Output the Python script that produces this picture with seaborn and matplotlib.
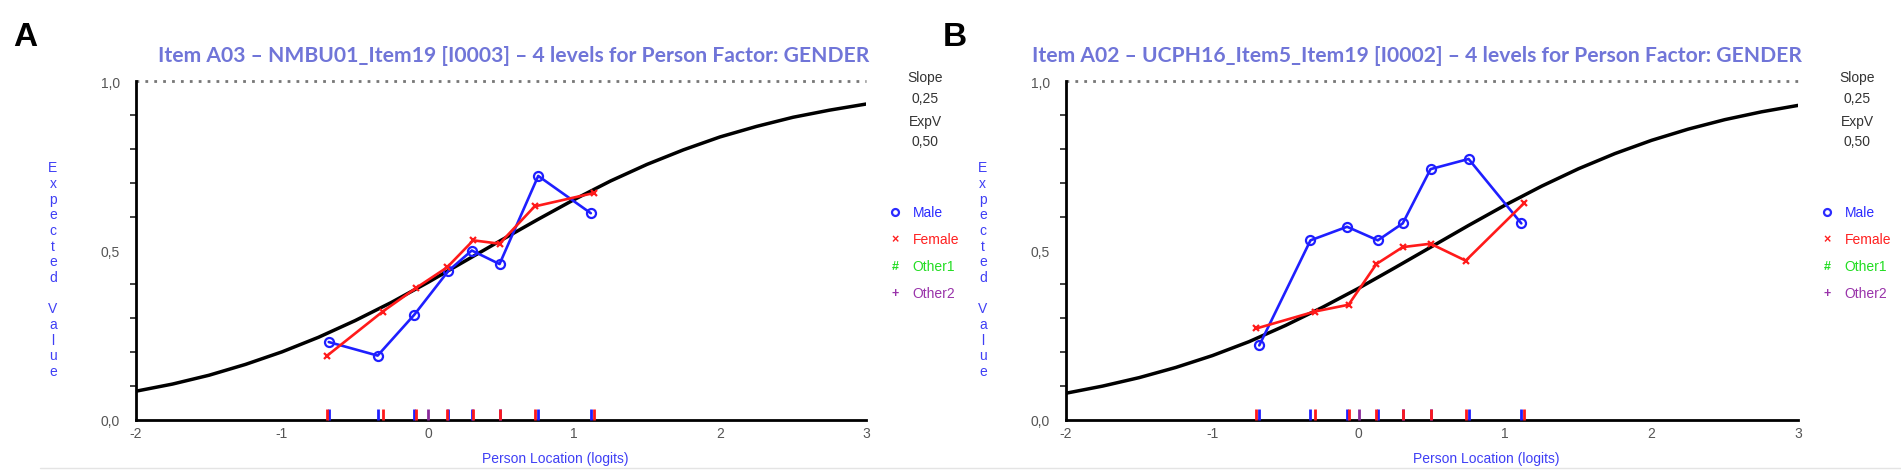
import matplotlib
matplotlib.use("Agg")
import matplotlib.pyplot as plt
import seaborn as sns
import pandas as pd
from matplotlib.ticker import FixedLocator, MultipleLocator
from matplotlib.lines import Line2D

# expected score curve
logits = [-2.0, -1.75, -1.5, -1.25, -1.0, -0.75, -0.5, -0.25, 0.0, 0.25, 0.5,
          0.75, 1.0, 1.25, 1.5, 1.75, 2.0, 2.25, 2.5, 2.75, 3.0]
icc_a = [0.085, 0.106, 0.132, 0.164, 0.201, 0.244, 0.293, 0.347, 0.406, 0.468, 0.530,
         0.591, 0.650, 0.705, 0.754, 0.797, 0.835, 0.866, 0.893, 0.914, 0.932]
icc_b = [0.079, 0.100, 0.125, 0.155, 0.190, 0.231, 0.279, 0.332, 0.389, 0.450, 0.512,
         0.574, 0.634, 0.690, 0.741, 0.786, 0.825, 0.858, 0.886, 0.909, 0.928]

# observed class means per gender
male_a_x = [-0.68, -0.345, -0.095, 0.14, 0.30, 0.49, 0.755, 1.115]
male_a_y = [0.23, 0.19, 0.31, 0.44, 0.50, 0.46, 0.72, 0.61]
female_a_x = [-0.69, -0.31, -0.08, 0.13, 0.31, 0.49, 0.73, 1.14]
female_a_y = [0.19, 0.32, 0.39, 0.45, 0.53, 0.52, 0.63, 0.67]

male_b_x = [-0.68, -0.33, -0.08, 0.13, 0.30, 0.49, 0.75, 1.11]
male_b_y = [0.22, 0.53, 0.57, 0.53, 0.58, 0.74, 0.77, 0.58]
female_b_x = [-0.70, -0.30, -0.07, 0.12, 0.30, 0.49, 0.73, 1.13]
female_b_y = [0.27, 0.32, 0.34, 0.46, 0.51, 0.52, 0.47, 0.64]

other2_loc = [0.0]

titles = ["Item A03 \u2013 NMBU01_Item19 [I0003] \u2013 4 levels for Person Factor: GENDER",
          "Item A02 \u2013 UCPH16_Item5_Item19 [I0002] \u2013 4 levels for Person Factor: GENDER"]
panel_letters = ["A", "B"]
groups = ["Male", "Female", "Other1", "Other2"]
group_colors = ["#2b2bff", "#ff2020", "#22dd22", "#9933aa"]
group_symbols = ["o", "\u00d7", "#", "+"]

sns.set_style("white")
plt.rcParams['font.family'] = ['Liberation Sans', 'DejaVu Sans']

BLUE = "#1f1fff"
RED = "#ff1a1a"
LBLUE = "#3f3ff5"
TITLE_C = "#7075d8"


def draw_panel(ax, curve, mx, my, fx, fy, title):
    sns.lineplot(x=logits, y=curve, ax=ax, color="black", lw=2.5, zorder=3)
    sns.lineplot(x=mx, y=my, ax=ax, color=BLUE, lw=1.9, marker="o", markersize=6.5,
                 mfc="none", mec=BLUE, mew=1.6, sort=False, zorder=4)
    sns.lineplot(x=fx, y=fy, ax=ax, color=RED, lw=1.9, marker="x", markersize=5,
                 mec=RED, mew=1.6, sort=False, zorder=5)

    # person location marks on the x axis
    ax.vlines(mx, 0, 0.033, color=BLUE, lw=2, zorder=6, clip_on=False)
    ax.vlines(fx, 0, 0.033, color=RED, lw=2, zorder=7, clip_on=False)
    ax.vlines(other2_loc, 0, 0.033, color="#8a2a9a", lw=2, zorder=7, clip_on=False)

    ax.plot([-2, 3], [1, 1], color="#777777", lw=2, ls=(0, (1.0, 2.2)), clip_on=False)

    ax.set_xlim(-2, 3)
    ax.set_ylim(0, 1)
    for s in ["top", "right"]:
        ax.spines[s].set_visible(False)
    for s in ["left", "bottom"]:
        ax.spines[s].set_color("black")
        ax.spines[s].set_linewidth(2.0)

    ax.yaxis.set_major_locator(FixedLocator([0, 0.5, 1.0]))
    ax.set_yticklabels(["0,0", "0,5", "1,0"])
    ax.yaxis.set_minor_locator(MultipleLocator(0.1))
    ax.set_xticks([-2, -1, 0, 1, 2, 3])
    ax.set_xticklabels(["-2", "-1", "0", "1", "2", "3"])
    ax.tick_params(axis="y", which="major", direction="out", length=9.5, width=1.3,
                   color="#333333", labelsize=10, labelcolor="#555555", pad=2)
    ax.tick_params(axis="y", which="minor", direction="out", length=4.5, width=1.3,
                   color="#333333", left=True)
    ax.tick_params(axis="x", which="major", direction="inout", length=6, width=1.3,
                   color="#333333", labelsize=10, labelcolor="#555555", pad=1)
    ax.set_xlabel("")
    ax.set_ylabel("")

    ax.text(0.574, -0.112, "Person Location (logits)", transform=ax.transAxes,
            ha="center", va="center", fontsize=10, color=LBLUE)
    ax.text(-0.1137, 0.445, "\n".join(list("Expected")) + "\n\n" + "\n".join(list("Value")),
            transform=ax.transAxes, ha="center", va="center", fontsize=10,
            color=LBLUE, linespacing=1.15)

    ax.text(1.005, 1.077, title, transform=ax.transAxes, ha="right", va="center",
            fontsize=15.2, fontweight="bold", color=TITLE_C, family=["Lato", "DejaVu Sans"])

    # slope / expected value box
    for txt, yy in zip(["Slope", "0,25", "ExpV", "0,50"], [1.012, 0.950, 0.882, 0.823]):
        ax.text(1.081, yy, txt, transform=ax.transAxes, ha="center", va="center",
                fontsize=10, color="#333333")

    # group legend
    for g, c, sym, yy in zip(groups, group_colors, group_symbols, [0.6136, 0.534, 0.454, 0.375]):
        if sym == "o":
            ax.plot([1.0397], [yy], marker="o", ms=5, mfc="none", mec=c, mew=1.6,
                    transform=ax.transAxes, clip_on=False)
        else:
            ax.text(1.0397, yy, sym, transform=ax.transAxes, ha="center", va="center",
                    fontsize=9, fontweight="bold", color=c)
        ax.text(1.064, yy, g, transform=ax.transAxes, ha="left", va="center",
                fontsize=10, color=c)


fig = plt.figure(figsize=(19.01, 4.77), dpi=100)
ax_a = fig.add_axes([136 / 1901, 1 - 421 / 477, 730 / 1901, 339 / 477])
ax_b = fig.add_axes([1066 / 1901, 1 - 421 / 477, 732 / 1901, 339 / 477])

draw_panel(ax_a, icc_a, male_a_x, male_a_y, female_a_x, female_a_y, titles[0])
draw_panel(ax_b, icc_b, male_b_x, male_b_y, female_b_x, female_b_y, titles[1])

for letter, xx in zip(panel_letters, [13, 943]):
    fig.text(xx / 1901, 1 - 46 / 477, letter, ha="left", va="baseline",
             fontsize=24, fontweight="bold", color="black")

fig.add_artist(Line2D([40 / 1901, 1.0], [1 - 469 / 477, 1 - 469 / 477],
                      color="#e4e4e4", lw=1))

fig.savefig("out.png", dpi=100)
